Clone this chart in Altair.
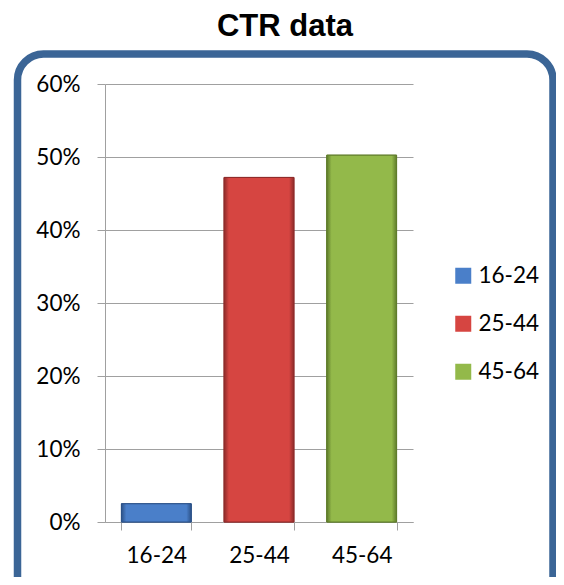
import altair as alt
import pandas as pd

# ---- data ----
groups = ["16-24", "25-44", "45-64"]
ctr = [0.025, 0.472, 0.5025]
y_ticks = [0, 0.1, 0.2, 0.3, 0.4, 0.5, 0.6]

# ---- styling ----
fill_colors = ["#4A7FC9", "#D64541", "#93B94A"]
light_colors = ["#7FAEEA", "#EE7672", "#B5D66E"]
edge_colors = ["#2C5288", "#8E2B2A", "#5F7C2B"]
border_color = "#3B6596"
grid_color = "#A0A0A0"
label_font = "Lato"

df = pd.DataFrame({"group": groups, "ctr": ctr})
frame_df = pd.DataFrame({"k": [0]})

W, H = 308, 438

frame = alt.Chart(frame_df).mark_rect(
    fillOpacity=0,
    stroke=border_color,
    strokeWidth=7.5,
    cornerRadius=26,
).encode(
    x=alt.value(-87.5),
    x2=alt.value(448),
    y=alt.value(-30),
    y2=alt.value(560),
)

x_enc = alt.X(
    "group:N",
    sort=groups,
    scale=alt.Scale(paddingInner=0.32, paddingOuter=0.16),
    axis=alt.Axis(
        title=None,
        labelAngle=0,
        tickBand="extent",
        tickSize=8,
        labelPadding=14,
        grid=False,
    ),
)
y_enc = alt.Y(
    "ctr:Q",
    scale=alt.Scale(domain=[0, 0.6]),
    axis=alt.Axis(
        title=None,
        values=y_ticks,
        format=".0%",
        tickSize=8,
        labelPadding=17,
        grid=True,
    ),
)

bars = alt.Chart(df).mark_bar(strokeWidth=1).encode(
    x=x_enc,
    y=y_enc,
    color=alt.Color(
        "group:N",
        sort=groups,
        scale=alt.Scale(domain=groups, range=fill_colors),
        legend=alt.Legend(
            title=None,
            orient="none",
            legendX=347,
            legendY=180.5,
            padding=0,
            symbolType="square",
            symbolSize=256,
            symbolStrokeWidth=0,
            labelFont=label_font,
            labelFontSize=22.5,
            labelColor="black",
            labelOffset=4,
            rowPadding=25,
        ),
    ),
    stroke=alt.Stroke(
        "group:N",
        sort=groups,
        scale=alt.Scale(domain=groups, range=edge_colors),
        legend=None,
    ),
)

# bevel-like shading on each bar (same data, same scales)
shades = []
for g, base, light, edge in zip(groups, fill_colors, light_colors, edge_colors):
    grad = alt.Gradient(
        gradient="linear",
        x1=0, x2=1, y1=0, y2=0,
        stops=[
            alt.GradientStop(offset=0, color=edge),
            alt.GradientStop(offset=0.07, color=base),
            alt.GradientStop(offset=0.5, color=base),
            alt.GradientStop(offset=0.93, color=base),
            alt.GradientStop(offset=1, color=edge),
        ],
    )
    shade = alt.Chart(df).transform_filter(
        alt.datum.group == g
    ).mark_bar(fill=grad, stroke=edge, strokeWidth=1).encode(
        x=alt.X("group:N", sort=groups),
        y=alt.Y("ctr:Q"),
    )
    shades.append(shade)

chart = alt.layer(frame, bars, *shades).properties(
    width=W,
    height=H,
    title=alt.TitleParams(
        "CTR data",
        font="Liberation Sans",
        fontSize=31,
        fontWeight="bold",
        color="black",
        anchor="middle",
        offset=7,
        dx=26,
    ),
    autosize=alt.AutoSizeParams(type="none"),
    padding={"left": 97, "top": 76, "right": 143, "bottom": 55},
).configure_view(
    stroke=None
).configure_axis(
    labelFont=label_font,
    labelFontSize=22.5,
    labelColor="black",
    gridColor=grid_color,
    domainColor=grid_color,
    tickColor=grid_color,
    gridWidth=1,
    domainWidth=1,
    tickWidth=1,
)

chart.save("out.html", embed_options={"renderer": "svg", "actions": False})
